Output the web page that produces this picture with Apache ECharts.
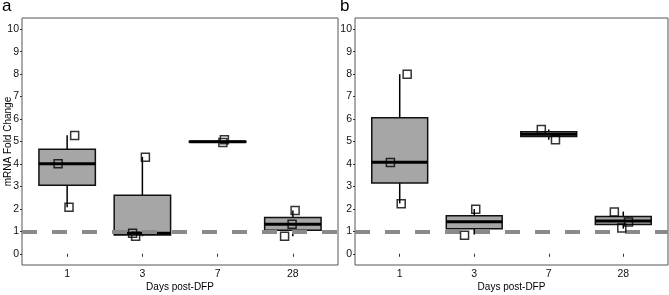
<!DOCTYPE html>
<html>
<head>
<meta charset="utf-8">
<script src="https://cdn.jsdelivr.net/npm/echarts@6/dist/echarts.min.js"></script>
<style>
  html, body { margin: 0; padding: 0; background: #fff; }
  #chart { width: 669px; height: 295px; }
</style>
</head>
<body>
<div id="chart"></div>
<script>
// 天数分类（x轴）
const days = ["1", "3", "7", "28"];
const yTicks = [0, 1, 2, 3, 4, 5, 6, 7, 8, 9, 10];

// 箱线统计 [x, min, Q1, median, Q3, max]
const boxA = [
  [1, 2.07, 3.05, 4.01, 4.65, 5.28],
  [2, 0.78, 0.84, 0.91, 2.61, 4.31],
  [3, 4.95, 4.97, 4.99, 5.01, 5.06],
  [4, 0.78, 1.05, 1.32, 1.61, 1.93],
];
const boxB = [
  [1, 2.24, 3.15, 4.08, 6.06, 8.0],
  [2, 0.86, 1.11, 1.43, 1.69, 1.99],
  [3, 5.08, 5.22, 5.32, 5.43, 5.53],
  [4, 1.12, 1.30, 1.46, 1.66, 1.88],
];

// 单个样本点 [x(抖动), y]
const pointsA = [
  [1.10, 5.27], [0.88, 4.01], [1.025, 2.07],
  [2.04, 4.30], [1.87, 0.91], [1.91, 0.78],
  [3.09, 5.08], [3.07, 4.96],
  [4.03, 1.93], [3.99, 1.32], [3.89, 0.78],
];
const pointsB = [
  [1.10, 8.0], [0.875, 4.07], [1.02, 2.23],
  [2.02, 1.98], [1.87, 0.82],
  [2.90, 5.53], [3.09, 5.08],
  [3.88, 1.86], [4.07, 1.42], [3.98, 1.15],
];

const baseline = 1; // 参考线

const chart = echarts.init(document.getElementById("chart"));

function renderBox(params, api) {
  const x = api.value(0);
  const pMin = api.coord([x, api.value(1)]);
  const pQ1 = api.coord([x, api.value(2)]);
  const pMed = api.coord([x, api.value(3)]);
  const pQ3 = api.coord([x, api.value(4)]);
  const pMax = api.coord([x, api.value(5)]);
  const w = api.size([0.75, 0])[0];
  const cx = pMed[0];
  return {
    type: "group",
    children: [
      {
        type: "line",
        shape: { x1: cx, y1: pMin[1], x2: cx, y2: pMax[1] },
        style: { stroke: "#000", lineWidth: 1.5 },
      },
      {
        type: "rect",
        shape: { x: cx - w / 2, y: pQ3[1], width: w, height: pQ1[1] - pQ3[1] },
        style: { fill: "#a6a6a6", stroke: "#111", lineWidth: 1.5 },
      },
      {
        type: "line",
        shape: { x1: cx - w / 2, y1: pMed[1], x2: cx + w / 2, y2: pMed[1] },
        style: { stroke: "#000", lineWidth: 3 },
      },
    ],
  };
}

const font = "Liberation Sans";

function xAxisCfg(idx) {
  return {
    type: "value",
    gridIndex: idx,
    min: 0.4,
    max: 4.6,
    name: "Days post-DFP",
    nameLocation: "middle",
    nameGap: 17,
    nameMoveOverlap: false,
    nameTextStyle: { color: "#000", fontSize: 10, fontFamily: font, verticalAlign: "top" },
    splitLine: { show: false },
    axisLine: { show: false },
    axisTick: { show: true, length: 3, customValues: [1, 2, 3, 4], lineStyle: { color: "#333" } },
    axisLabel: {
      customValues: [1, 2, 3, 4],
      margin: 4,
      color: "#111",
      fontSize: 10.5,
      fontFamily: font,
      formatter: (v) => days[Math.round(v) - 1],
    },
  };
}

function yAxisCfg(idx, withName) {
  return {
    type: "value",
    gridIndex: idx,
    min: -0.5,
    max: 10.5,
    name: withName ? "mRNA Fold Change" : "",
    nameLocation: "middle",
    nameGap: 9,
    nameMoveOverlap: false,
    nameTextStyle: { color: "#000", fontSize: 10, fontFamily: font },
    splitLine: { show: false },
    axisLine: { show: false },
    axisTick: { show: true, length: 2, customValues: yTicks, lineStyle: { color: "#333" } },
    axisLabel: {
      customValues: yTicks,
      margin: 3,
      color: "#111",
      fontSize: 10.5,
      fontFamily: font,
    },
  };
}

function seriesFor(idx, boxes, pts) {
  return [
    {
      type: "custom",
      xAxisIndex: idx,
      yAxisIndex: idx,
      renderItem: renderBox,
      data: boxes,
      z: 2,
    },
    {
      type: "scatter",
      xAxisIndex: idx,
      yAxisIndex: idx,
      data: pts,
      symbol: "rect",
      symbolSize: 8,
      itemStyle: { color: "rgba(0,0,0,0)", borderColor: "#000", borderWidth: 1.5 },
      z: 4,
      markLine: {
        silent: true,
        symbol: "none",
        label: { show: false },
        lineStyle: { color: "#8a8a8a", width: 4, type: [15, 15], dashOffset: 0 },
        data: [{ yAxis: baseline }],
        z: 3,
      },
    },
  ];
}

const letterStyle = { fontSize: 17, fontWeight: "normal", color: "#000", fontFamily: font };

const options = {
  animation: false,
  title: [
    { text: "a", left: 2, top: -2, padding: 0, textStyle: letterStyle },
    { text: "b", left: 340, top: -2, padding: 0, textStyle: letterStyle },
  ],
  grid: [
    { left: 22, top: 18, width: 316, height: 247, show: true, borderColor: "#555", borderWidth: 1, outerBoundsMode: "none" },
    { left: 355, top: 18, width: 313, height: 247, show: true, borderColor: "#555", borderWidth: 1, outerBoundsMode: "none" },
  ],
  xAxis: [xAxisCfg(0), xAxisCfg(1)],
  yAxis: [yAxisCfg(0, true), yAxisCfg(1, false)],
  series: [...seriesFor(0, boxA, pointsA), ...seriesFor(1, boxB, pointsB)],
};

chart.setOption(options);

window.addEventListener("resize", () => {
  chart.resize();
});
</script>
</body>
</html>
